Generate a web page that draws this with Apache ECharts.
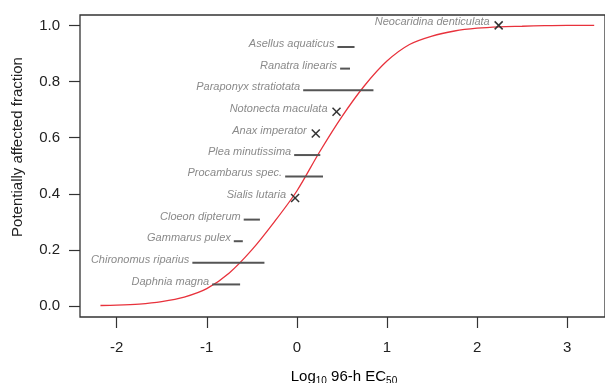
<!DOCTYPE html>
<html>
<head>
<meta charset="utf-8">
<script src="https://cdn.jsdelivr.net/npm/echarts@6/dist/echarts.min.js"></script>
<style>
  html, body { margin: 0; padding: 0; background: #fff; }
  #chart { width: 605px; height: 383px; }
</style>
</head>
<body>
<div id="chart"></div>
<script>
// Species sensitivity distribution: log10 96-h EC50 per species
const species = [
  'Daphnia magna', 'Chironomus riparius', 'Gammarus pulex', 'Cloeon dipterum',
  'Sialis lutaria', 'Procambarus spec.', 'Plea minutissima', 'Anax imperator',
  'Notonecta maculata', 'Paraponyx stratiotata', 'Ranatra linearis',
  'Asellus aquaticus', 'Neocaridina denticulata'
];
// Lower and upper log10 EC50 (equal values = single estimate, drawn as a cross)
const ecLow  = [-0.94, -1.16, -0.70, -0.59, -0.02, -0.13, -0.03, 0.21, 0.44, 0.07, 0.48, 0.45, 2.24];
const ecHigh = [-0.63, -0.36, -0.60, -0.41, -0.02,  0.29,  0.26, 0.21, 0.44, 0.85, 0.59, 0.64, 2.24];
const affected = [0.077, 0.154, 0.231, 0.308, 0.385, 0.462, 0.538, 0.615, 0.692, 0.769, 0.846, 0.923, 1.0];

// Fitted distribution curve
const curveX = [-2.18, -2.0, -1.75, -1.5, -1.25, -1.0, -0.75, -0.5, -0.25, 0.0, 0.25, 0.5, 0.75,
                1.0, 1.25, 1.5, 1.75, 2.0, 2.25, 2.5, 2.75, 3.0, 3.3];
const curveY = [0.002, 0.003, 0.007, 0.016, 0.032, 0.062, 0.118, 0.200, 0.300, 0.410, 0.548, 0.675, 0.785,
                0.873, 0.932, 0.962, 0.980, 0.990, 0.995, 0.997, 0.999, 1.0, 1.0];

const xTicks = [-2, -1, 0, 1, 2, 3];
const yTicks = [0, 0.2, 0.4, 0.6, 0.8, 1.0];

const FONT = '"Liberation Sans", Arial, sans-serif';

const chart = echarts.init(document.getElementById('chart'), null, { renderer: 'canvas' });

const speciesData = species.map((s, i) => [ecLow[i], ecHigh[i], affected[i], i]);

chart.setOption({
  animation: false,
  backgroundColor: '#ffffff',
  grid: {
    show: true,
    left: 80, top: 15, right: -4, bottom: 66,
    borderColor: '#333', borderWidth: 1.3,
    backgroundColor: 'transparent'
  },
  xAxis: {
    type: 'value',
    min: -2.407, max: 3.42,
    axisLine: { show: false, onZero: false },
    splitLine: { show: false },
    axisTick: {
      show: true, customValues: xTicks, length: 11,
      lineStyle: { color: '#333', width: 1.2 }
    },
    axisLabel: {
      customValues: xTicks, margin: 23,
      fontSize: 15, fontFamily: FONT, color: '#222',
      formatter: v => String(v)
    }
  },
  yAxis: {
    type: 'value',
    min: -0.039, max: 1.037,
    axisLine: { show: false, onZero: false },
    splitLine: { show: false },
    axisTick: {
      show: true, customValues: yTicks, length: 11,
      lineStyle: { color: '#333', width: 1.2 }
    },
    axisLabel: {
      customValues: yTicks, margin: 20,
      fontSize: 15, fontFamily: FONT, color: '#222',
      formatter: v => v.toFixed(1)
    }
  },
  graphic: [
    {
      type: 'text',
      x: 18, y: 147,
      rotation: Math.PI / 2,
      style: {
        text: 'Potentially affected fraction',
        font: '15px ' + FONT,
        fill: '#222',
        align: 'center', verticalAlign: 'middle'
      }
    },
    {
      type: 'text',
      x: 344, y: 377,
      style: {
        text: '{a|Log}{s|10}{a| 96-h EC}{s|50}',
        align: 'center', verticalAlign: 'middle',
        rich: {
          a: { fontSize: 15, fontFamily: FONT, color: '#222', lineHeight: 18 },
          s: { fontSize: 10, fontFamily: FONT, color: '#222', lineHeight: 8, verticalAlign: 'bottom' }
        }
      }
    }
  ],
  series: [
    {
      type: 'line',
      data: curveX.map((x, i) => [x, curveY[i]]),
      smooth: 0.3,
      showSymbol: false,
      lineStyle: { color: '#e8323c', width: 1.3 },
      z: 3
    },
    {
      type: 'custom',
      coordinateSystem: 'cartesian2d',
      data: speciesData,
      encode: { x: [0, 1], y: 2 },
      z: 4,
      renderItem: function (params, api) {
        const lo = api.value(0), hi = api.value(1), y = api.value(2);
        const idx = api.value(3);
        const pLo = api.coord([lo, y]);
        const pHi = api.coord([hi, y]);
        const children = [];
        let labelRight;
        if (lo === hi) {
          const r = 4;
          const st = { stroke: '#333', lineWidth: 1.5 };
          children.push({ type: 'line', shape: { x1: pLo[0] - r, y1: pLo[1] - r, x2: pLo[0] + r, y2: pLo[1] + r }, style: st });
          children.push({ type: 'line', shape: { x1: pLo[0] - r, y1: pLo[1] + r, x2: pLo[0] + r, y2: pLo[1] - r }, style: st });
          labelRight = pLo[0] - 9;
        } else {
          children.push({
            type: 'line',
            shape: { x1: pLo[0], y1: pLo[1], x2: pHi[0], y2: pHi[1] },
            style: { stroke: '#555', lineWidth: 2 }
          });
          labelRight = pLo[0] - 3;
        }
        children.push({
          type: 'text',
          x: labelRight, y: pLo[1] - 3,
          style: {
            text: species[idx],
            font: 'italic 11px ' + FONT,
            fill: '#8a8a8a',
            align: 'right', verticalAlign: 'middle'
          }
        });
        return { type: 'group', children: children };
      }
    }
  ]
});
</script>
</body>
</html>
